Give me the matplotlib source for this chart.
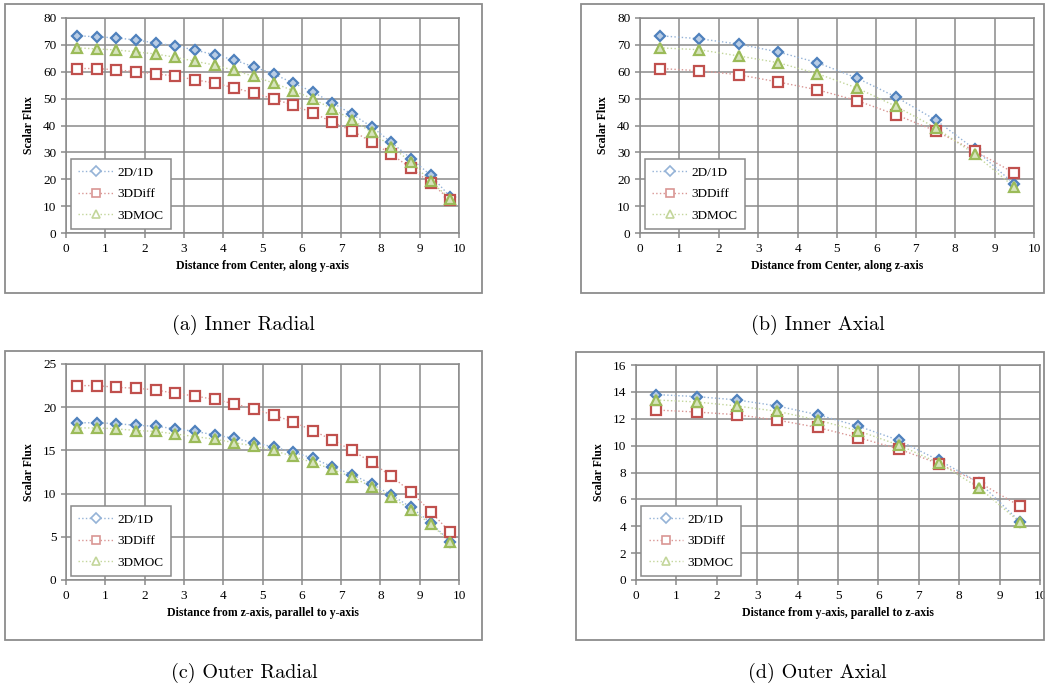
import matplotlib
matplotlib.use('Agg')
import matplotlib.pyplot as plt
from matplotlib.patches import Rectangle

# Dados
x_radial = [0.28, 0.78, 1.28, 1.78, 2.28, 2.78, 3.28, 3.78, 4.28, 4.78,
            5.28, 5.78, 6.28, 6.78, 7.28, 7.78, 8.28, 8.78, 9.28, 9.78]
x_axial = [0.5, 1.5, 2.5, 3.5, 4.5, 5.5, 6.5, 7.5, 8.5, 9.5]

inner_radial_2d1d = [73.4, 73.0, 72.6, 71.8, 70.7, 69.6, 68.1, 66.3, 64.4, 61.8,
                     59.2, 55.8, 52.5, 48.4, 44.2, 39.5, 33.7, 27.7, 21.5, 13.4]
inner_radial_diff = [61.2, 61.2, 60.7, 60.0, 59.2, 58.4, 57.0, 55.8, 54.0, 52.1,
                     49.9, 47.6, 44.7, 41.3, 38.0, 33.9, 29.3, 24.1, 18.6, 12.3]
inner_radial_moc = [68.9, 68.5, 68.1, 67.4, 66.6, 65.4, 63.9, 62.5, 60.5, 58.3,
                    55.8, 53.0, 49.9, 46.2, 42.1, 37.5, 32.1, 26.4, 19.2, 12.7]

inner_axial_2d1d = [73.4, 72.3, 70.3, 67.4, 63.4, 57.7, 50.6, 42.1, 31.1, 18.2]
inner_axial_diff = [61.2, 60.4, 58.9, 56.2, 53.3, 49.3, 44.0, 38.0, 30.5, 22.3]
inner_axial_moc = [68.9, 68.2, 65.9, 63.4, 59.3, 54.0, 47.1, 39.2, 29.3, 17.1]

outer_radial_2d1d = [18.2, 18.2, 18.1, 17.9, 17.8, 17.5, 17.2, 16.8, 16.4, 15.9,
                     15.4, 14.8, 14.1, 13.1, 12.2, 11.1, 9.85, 8.4, 6.65, 4.45]
outer_radial_diff = [22.5, 22.5, 22.3, 22.2, 22.0, 21.6, 21.3, 20.9, 20.4, 19.8,
                     19.1, 18.3, 17.3, 16.2, 15.0, 13.6, 12.0, 10.2, 7.9, 5.5]
outer_radial_moc = [17.6, 17.6, 17.5, 17.3, 17.2, 16.9, 16.6, 16.3, 15.9, 15.5,
                    15.0, 14.3, 13.6, 12.8, 11.9, 10.8, 9.6, 8.1, 6.5, 4.35]

outer_axial_2d1d = [13.8, 13.65, 13.4, 12.95, 12.3, 11.45, 10.4, 8.9, 7.25, 4.35]
outer_axial_diff = [12.65, 12.5, 12.3, 11.9, 11.35, 10.6, 9.75, 8.65, 7.25, 5.5]
outer_axial_moc = [13.4, 13.25, 12.95, 12.55, 11.9, 11.1, 10.05, 8.7, 6.85, 4.3]

series_names = ['2D/1D', '3DDiff', '3DMOC']
captions = ['(a) Inner Radial', '(b) Inner Axial', '(c) Outer Radial', '(d) Outer Axial']
xlabels = ['Distance from Center, along y-axis', 'Distance from Center, along z-axis',
           'Distance from z-axis, parallel to y-axis', 'Distance from y-axis, parallel to z-axis']

W, H = 1045, 690
fig = plt.figure(figsize=(W / 100, H / 100), dpi=100)
plt.rcParams['font.family'] = 'Liberation Serif'


def px(l, t, r, b):
    return [l / W, 1 - b / H, (r - l) / W, (b - t) / H]


# estilo de cada série: marcador, cor da borda, cor da linha, preenchimento, tamanho
estilos = [
    ('D', '#4F81BD', '#95B3D7', '#B9CDE5', 5.5),
    ('s', '#C0504D', '#D99694', 'white', 6.5),
    ('^', '#9BBB59', '#C3D69B', '#D7E4BD', 6.5),
]

paineis = [
    (x_radial, [inner_radial_2d1d, inner_radial_diff, inner_radial_moc], 80, 10,
     (66, 18, 459, 233), (5, 4, 482, 293), (243, 325)),
    (x_axial, [inner_axial_2d1d, inner_axial_diff, inner_axial_moc], 80, 10,
     (640, 18, 1034, 233), (581, 4, 1044, 293), (818, 325)),
    (x_radial, [outer_radial_2d1d, outer_radial_diff, outer_radial_moc], 25, 5,
     (66, 364, 459, 580), (5, 351, 482, 640), (244, 673)),
    (x_axial, [outer_axial_2d1d, outer_axial_diff, outer_axial_moc], 16, 2,
     (636, 365, 1040, 580), (576, 352, 1044, 640), (817, 673)),
]

for i, (xs, ys_list, ymax, ystep, area, caixa, cap) in enumerate(paineis):
    # moldura do gráfico (estilo Excel)
    l, t, r, b = caixa
    fig.patches.append(Rectangle((l / W, 1 - b / H), (r - l) / W, (b - t) / H,
                                 transform=fig.transFigure, fill=False,
                                 edgecolor='#8c8c8c', lw=1.3))
    ax = fig.add_axes(px(*area))
    for nome, ys, (mk, cor, cor_linha, face, ms) in zip(series_names, ys_list, estilos):
        ax.plot(xs, ys, linestyle=':', color=cor_linha, lw=1.0, zorder=3)
        ax.plot(xs, ys, linestyle='none', marker=mk, ms=ms, mec=cor, mfc=face,
                mew=1.6, zorder=4)
        # entrada da legenda (linha + marcador mais leve)
        ax.plot([], [], linestyle=':', color=cor_linha, lw=1.0, marker=mk,
                ms=ms * 0.85, mec=cor_linha, mfc='white', mew=1.2, label=nome)
    ax.set_xlim(0, 10)
    ax.set_ylim(0, ymax)
    ax.set_xticks(range(0, 11))
    ax.set_yticks(range(0, ymax + 1, ystep))
    ax.grid(True, color='#8a8a8a', lw=1.1)
    ax.set_axisbelow(True)
    for s in ax.spines.values():
        s.set_color('#8a8a8a')
        s.set_linewidth(1.1)
    ax.tick_params(axis='both', colors='#8a8a8a', labelcolor='black', labelsize=9.5,
                   length=3.5, width=1.1, pad=3.5)
    ax.set_xlabel(xlabels[i], fontsize=8.5, fontweight='bold', labelpad=4)
    ax.set_ylabel('Scalar Flux', fontsize=8.5, fontweight='bold', labelpad=6)

    leg = ax.legend(loc='lower left', bbox_to_anchor=(0.013, 0.019), borderaxespad=0,
                    fontsize=9.5, fancybox=False, framealpha=1, edgecolor='#8a8a8a',
                    handlelength=2.6, labelspacing=0.7, borderpad=0.55,
                    handletextpad=0.35)
    leg.get_frame().set_linewidth(1.1)

    fig.text(cap[0] / W, 1 - cap[1] / H, captions[i], ha='center', va='center',
             fontsize=14.5, family='cmr10')

plt.savefig('out.png', dpi=100)
